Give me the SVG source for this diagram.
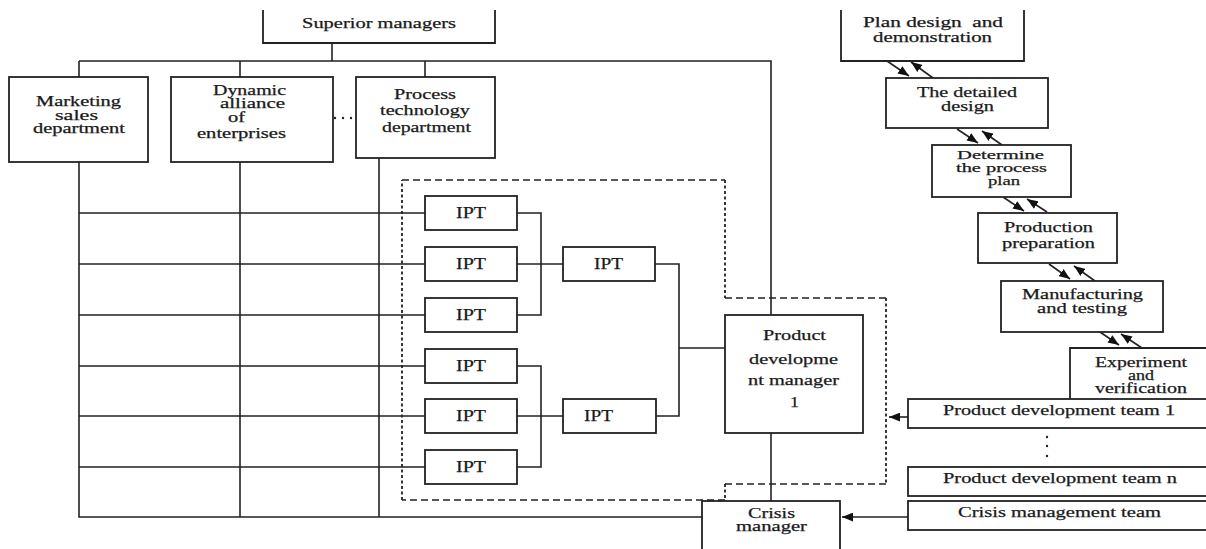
<svg xmlns="http://www.w3.org/2000/svg" width="1206" height="549" viewBox="0 0 1206 549">
<style>
.bx{fill:#fff;stroke:#222;stroke-width:1.8}
.ln{fill:none;stroke:#222;stroke-width:1.6}
.dh{fill:none;stroke:#222;stroke-width:1.6;stroke-dasharray:7 4}
.dv{fill:none;stroke:#222;stroke-width:1.8;stroke-dasharray:3 2.5}
text{font-family:"Liberation Serif","Times New Roman",serif;font-size:15px;fill:#1a1a1a;stroke:#1a1a1a;stroke-width:0.25}
.ipt{font-size:16px}
.sm{font-size:14px}
.xs{font-size:13px}
</style>
<defs>
<marker id="ah" viewBox="0 0 10 8" refX="10" refY="4" markerWidth="11" markerHeight="9" markerUnits="userSpaceOnUse" orient="auto"><path d="M0,0 L10,4 L0,8 z" fill="#111"/></marker>
</defs>
<rect width="1206" height="549" fill="#fff"/>
<g id="connectors">
<path class="ln" d="M332,43 V61 M79,61 H771 V315 M79,61 V77 M240,61 V77 M425,61 V77"/>
<path class="ln" d="M79,162 V517 H702 M240,162 V517 M379,158 V517"/>
<path class="ln" d="M79,213 H425 M79,264 H425 M79,315 H425 M79,366 H425 M79,416 H425 M79,467 H425"/>
<path class="ln" d="M517,213 H541 V315 H517 M517,264 H563 M517,366 H541 V467 H517 M517,416 H563"/>
<path class="ln" d="M655,264 H679 V416 H656 M679,348 H725"/>
<path class="ln" d="M771,433 V501"/>
<path class="dh" d="M402,180 H725 M725,298 H886 M886,484 H725 M725,500 H402"/>
<path class="dv" d="M725,180 V298 M886,298 V484 M725,484 V500 M402,500 V180"/>
<line class="ln" x1="908" y1="417" x2="889" y2="417" marker-end="url(#ah)"/>
<line class="ln" x1="908" y1="517" x2="842" y2="517" marker-end="url(#ah)"/>
<line class="ln" x1="887" y1="61" x2="909" y2="76" marker-end="url(#ah)"/>
<line class="ln" x1="933" y1="78" x2="911" y2="62" marker-end="url(#ah)"/>
<line class="ln" x1="957" y1="129" x2="978" y2="143" marker-end="url(#ah)"/>
<line class="ln" x1="1002" y1="145" x2="982" y2="131" marker-end="url(#ah)"/>
<line class="ln" x1="1003" y1="197" x2="1024" y2="211" marker-end="url(#ah)"/>
<line class="ln" x1="1047" y1="212" x2="1027" y2="199" marker-end="url(#ah)"/>
<line class="ln" x1="1049" y1="264" x2="1070" y2="279" marker-end="url(#ah)"/>
<line class="ln" x1="1095" y1="281" x2="1074" y2="266" marker-end="url(#ah)"/>
<line class="ln" x1="1100" y1="332" x2="1119" y2="345" marker-end="url(#ah)"/>
<line class="ln" x1="1142" y1="348" x2="1121" y2="334" marker-end="url(#ah)"/>
</g>
<g id="superior"><path class="bx" d="M263,10 V43 H495 V10"/><text x="302" y="28" textLength="154" lengthAdjust="spacingAndGlyphs">Superior managers</text></g>
<g id="marketing"><rect class="bx" x="9" y="77" width="139" height="85"/>
<text class="sm" x="36" y="106" textLength="85" lengthAdjust="spacingAndGlyphs">Marketing</text>
<text class="sm" x="55" y="120" textLength="43" lengthAdjust="spacingAndGlyphs">sales</text>
<text class="sm" x="33" y="133" textLength="92" lengthAdjust="spacingAndGlyphs">department</text></g>
<g id="alliance"><rect class="bx" x="171" y="77" width="162" height="85"/>
<text class="sm" x="213" y="95" textLength="73" lengthAdjust="spacingAndGlyphs">Dynamic</text>
<text class="sm" x="220" y="108" textLength="65" lengthAdjust="spacingAndGlyphs">alliance</text>
<text class="sm" x="228" y="122" textLength="17" lengthAdjust="spacingAndGlyphs">of</text>
<text class="sm" x="197" y="138" textLength="89" lengthAdjust="spacingAndGlyphs">enterprises</text></g>
<g id="ellipsis1"><circle cx="335" cy="118" r="1.2" fill="#222"/><circle cx="343" cy="118" r="1.2" fill="#222"/><circle cx="351" cy="118" r="1.2" fill="#222"/></g>
<g id="process"><rect class="bx" x="356" y="77" width="139" height="81"/>
<text x="394" y="99" textLength="62" lengthAdjust="spacingAndGlyphs">Process</text>
<text x="380" y="115" textLength="90" lengthAdjust="spacingAndGlyphs">technology</text>
<text x="382" y="132" textLength="89" lengthAdjust="spacingAndGlyphs">department</text></g>
<g id="ipt1"><rect class="bx" x="425" y="196" width="92" height="34"/><text class="ipt" x="456" y="218" textLength="30" lengthAdjust="spacingAndGlyphs">IPT</text></g>
<g id="ipt2"><rect class="bx" x="425" y="247" width="92" height="34"/><text class="ipt" x="456" y="269" textLength="30" lengthAdjust="spacingAndGlyphs">IPT</text></g>
<g id="ipt3"><rect class="bx" x="425" y="298" width="92" height="34"/><text class="ipt" x="456" y="320" textLength="30" lengthAdjust="spacingAndGlyphs">IPT</text></g>
<g id="ipt4"><rect class="bx" x="425" y="349" width="92" height="34"/><text class="ipt" x="456" y="371" textLength="30" lengthAdjust="spacingAndGlyphs">IPT</text></g>
<g id="ipt5"><rect class="bx" x="425" y="399" width="92" height="34"/><text class="ipt" x="456" y="421" textLength="30" lengthAdjust="spacingAndGlyphs">IPT</text></g>
<g id="ipt6"><rect class="bx" x="425" y="450" width="92" height="34"/><text class="ipt" x="456" y="472" textLength="30" lengthAdjust="spacingAndGlyphs">IPT</text></g>
<g id="ipt7"><rect class="bx" x="563" y="247" width="92" height="34"/><text class="ipt" x="594" y="269" textLength="29" lengthAdjust="spacingAndGlyphs">IPT</text></g>
<g id="ipt8"><rect class="bx" x="563" y="399" width="93" height="34"/><text class="ipt" x="584" y="421" textLength="29" lengthAdjust="spacingAndGlyphs">IPT</text></g>
<g id="pdm"><rect class="bx" x="725" y="315" width="138" height="118"/>
<text x="763" y="340" textLength="63" lengthAdjust="spacingAndGlyphs">Product</text>
<text x="749" y="364" textLength="89" lengthAdjust="spacingAndGlyphs">developme</text>
<text x="748" y="385" textLength="91" lengthAdjust="spacingAndGlyphs">nt manager</text>
<text x="790" y="407" textLength="9" lengthAdjust="spacingAndGlyphs">1</text></g>
<g id="crisis"><rect class="bx" x="702" y="501" width="138" height="60"/>
<text class="sm" x="748" y="518" textLength="47" lengthAdjust="spacingAndGlyphs">Crisis</text>
<text class="sm" x="736" y="531" textLength="71" lengthAdjust="spacingAndGlyphs">manager</text></g>
<g id="plan"><path class="bx" d="M841,10 V61 H1024 V10"/>
<text class="sm" x="863" y="27" textLength="140" lengthAdjust="spacingAndGlyphs" xml:space="preserve">Plan design  and</text>
<text class="sm" x="873" y="42" textLength="119" lengthAdjust="spacingAndGlyphs">demonstration</text></g>
<g id="detailed"><rect class="bx" x="886" y="78" width="162" height="50"/>
<text x="917" y="97" textLength="100" lengthAdjust="spacingAndGlyphs">The detailed</text>
<text x="941" y="111" textLength="53" lengthAdjust="spacingAndGlyphs">design</text></g>
<g id="determine"><rect class="bx" x="932" y="145" width="139" height="52"/>
<text class="xs" x="957" y="159" textLength="87" lengthAdjust="spacingAndGlyphs">Determine</text>
<text class="xs" x="956" y="172" textLength="91" lengthAdjust="spacingAndGlyphs">the process</text>
<text class="xs" x="988" y="185" textLength="32" lengthAdjust="spacingAndGlyphs">plan</text></g>
<g id="production"><rect class="bx" x="978" y="213" width="139" height="50"/>
<text x="1004" y="232" textLength="89" lengthAdjust="spacingAndGlyphs">Production</text>
<text x="1002" y="248" textLength="93" lengthAdjust="spacingAndGlyphs">preparation</text></g>
<g id="manufacturing"><rect class="bx" x="1001" y="281" width="162" height="51"/>
<text x="1022" y="299" textLength="121" lengthAdjust="spacingAndGlyphs">Manufacturing</text>
<text x="1037" y="313" textLength="90" lengthAdjust="spacingAndGlyphs">and testing</text></g>
<g id="experiment"><path class="bx" d="M1215,348 H1070 V399"/>
<text class="sm" x="1095" y="367" textLength="92" lengthAdjust="spacingAndGlyphs">Experiment</text>
<text class="sm" x="1128" y="380" textLength="26" lengthAdjust="spacingAndGlyphs">and</text>
<text class="sm" x="1095" y="393" textLength="92" lengthAdjust="spacingAndGlyphs">verification</text></g>
<g id="team1"><rect class="bx" x="908" y="399" width="310" height="29"/>
<text x="943" y="415" textLength="232" lengthAdjust="spacingAndGlyphs">Product development team 1</text></g>
<g id="ellipsis2"><circle cx="1047" cy="437" r="1.2" fill="#222"/><circle cx="1047" cy="446" r="1.2" fill="#222"/><circle cx="1047" cy="456" r="1.2" fill="#222"/></g>
<g id="teamn"><rect class="bx" x="908" y="467" width="310" height="29"/>
<text x="943" y="483" textLength="234" lengthAdjust="spacingAndGlyphs">Product development team n</text></g>
<g id="crisisteam"><rect class="bx" x="908" y="501" width="310" height="29"/>
<text x="958" y="517" textLength="203" lengthAdjust="spacingAndGlyphs">Crisis management team</text></g>
</svg>
